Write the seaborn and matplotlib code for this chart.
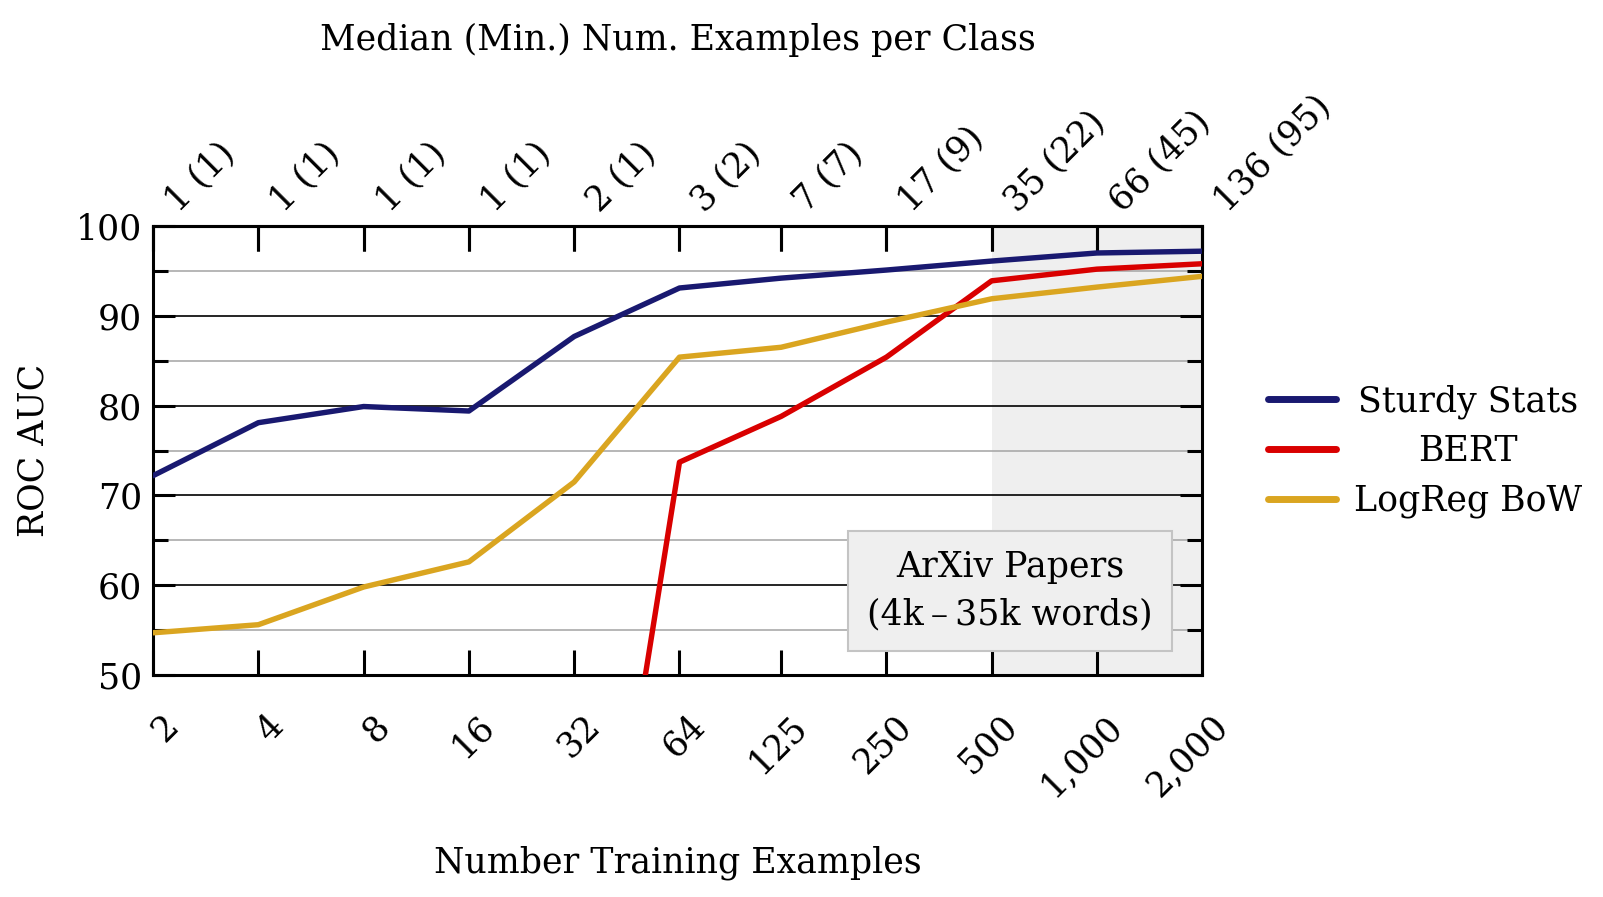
import numpy as np
import pandas as pd
import matplotlib
matplotlib.use("Agg")
import matplotlib.pyplot as plt
import matplotlib.transforms as mtransforms
from matplotlib.ticker import FixedLocator, MultipleLocator, NullFormatter
import seaborn as sns

# number of training examples (bottom axis)
n_train = [2, 4, 8, 16, 32, 64, 125, 250, 500, 1000, 2000]
bottom_labels = ["2", "4", "8", "16", "32", "64", "125", "250", "500", "1,000", "2,000"]
# median (min.) examples per class (top axis)
top_labels = ["1 (1)", "1 (1)", "1 (1)", "1 (1)", "2 (1)", "3 (2)", "7 (7)",
              "17 (9)", "35 (22)", "66 (45)", "136 (95)"]

sturdy = [72.2, 78.1, 79.9, 79.4, 87.7, 93.1, 94.2, 95.1, 96.1, 97.0, 97.2]
bert_x = [32, 64, 125, 250, 500, 1000, 2000]
bert = [0.5, 73.7, 78.8, 85.4, 93.9, 95.2, 95.8]
logreg = [54.7, 55.6, 59.8, 62.6, 71.5, 85.4, 86.5, 89.3, 91.9, 93.2, 94.4]

df = pd.concat([
    pd.DataFrame({"n": n_train, "auc": sturdy, "model": "Sturdy Stats"}),
    pd.DataFrame({"n": bert_x, "auc": bert, "model": "BERT"}),
    pd.DataFrame({"n": n_train, "auc": logreg, "model": "LogReg BoW"}),
])
palette = {"Sturdy Stats": "#191970", "BERT": "#d90000", "LogReg BoW": "#daa520"}

FS = 25
sns.set_style("white")
plt.rcParams["font.family"] = ["DejaVu Serif"]
plt.rcParams["font.size"] = FS
for k in ["text.color", "axes.labelcolor", "xtick.color", "ytick.color"]:
    plt.rcParams[k] = "black"

fig = plt.figure(figsize=(16.03, 8.97), dpi=100)
ax = fig.add_axes([0.0955, 0.2475, 0.6545, 0.5005])

# shaded long-document region
ax.axvspan(500, 2000, color="#efefef", zorder=0, lw=0)

sns.lineplot(data=df, x="n", y="auc", hue="model", palette=palette,
             linewidth=3.9, ax=ax, legend=True, zorder=3)

ax.set_xscale("log", base=2)
ax.set_xlim(2, 2000)
ax.set_ylim(50, 100)

ax.xaxis.set_major_locator(FixedLocator(n_train))
ax.xaxis.set_minor_locator(FixedLocator([]))
ax.xaxis.set_minor_formatter(NullFormatter())
ax.set_xticklabels(bottom_labels)

ax.yaxis.set_major_locator(MultipleLocator(10))
ax.yaxis.set_minor_locator(MultipleLocator(5))

ax.grid(axis="y", which="major", color="black", lw=1.2, zorder=1)
ax.grid(axis="y", which="minor", color="#aaaaaa", lw=1.2, zorder=1)
ax.set_axisbelow(True)

ax.tick_params(which="major", direction="in", length=16, width=2.2,
               left=True, right=True, bottom=True, top=True, labelsize=FS)
ax.tick_params(axis="x", which="major", length=18, pad=24)
ax.tick_params(axis="y", which="major", pad=8)
ax.tick_params(which="minor", direction="in", length=11, width=2.2,
               left=True, right=True)
for s in ax.spines.values():
    s.set_color("black")
    s.set_linewidth(2.2)

# bottom labels: rotated, anchored at their upper right corner
shift_b = mtransforms.ScaledTranslation(8 / 100, 0, fig.dpi_scale_trans)
for lab in ax.get_xticklabels():
    lab.set_rotation(45)
    lab.set_ha("right")
    lab.set_va("top")
    lab.set_rotation_mode("anchor")
    lab.set_transform(lab.get_transform() + shift_b)

sec = ax.secondary_xaxis("top")
sec.xaxis.set_major_locator(FixedLocator(n_train))
sec.xaxis.set_minor_locator(FixedLocator([]))
sec.set_xticklabels(top_labels)
sec.tick_params(direction="in", length=18, width=2.2, pad=6, labelsize=FS)
sec.spines["top"].set_linewidth(2.2)
shift_t = mtransforms.ScaledTranslation(30 / 100, 0, fig.dpi_scale_trans)
for lab in sec.get_xticklabels():
    lab.set_rotation(45)
    lab.set_ha("left")
    lab.set_va("bottom")
    lab.set_rotation_mode("anchor")
    lab.set_transform(lab.get_transform() + shift_t)
sec.set_xlabel("Median (Min.) Num. Examples per Class", fontsize=FS, labelpad=28)

ax.set_xlabel("Number Training Examples", fontsize=FS, labelpad=31)
ax.set_ylabel("ROC AUC", fontsize=FS, labelpad=18)

ax.text(0.817, 0.187, "ArXiv Papers\n(4k\u2009\u2013\u200935k words)", transform=ax.transAxes,
        ha="center", va="center", fontsize=FS, linespacing=1.5, zorder=5,
        bbox=dict(boxstyle="square,pad=0.55", fc="#efefef", ec="#c4c4c4", lw=1.5))

leg = ax.legend(loc="center", bbox_to_anchor=(0.889, 0.497), bbox_transform=fig.transFigure,
                frameon=False, fontsize=FS, handlelength=1.95, labelspacing=0.45,
                handletextpad=0.5)
for line in leg.get_lines():
    line.set_linewidth(5)

# centre the legend texts in their column
fig.canvas.draw()
r = fig.canvas.get_renderer()
widths = [t.get_window_extent(r).width for t in leg.get_texts()]
maxw = max(widths)
for t, w in zip(leg.get_texts(), widths):
    off = mtransforms.ScaledTranslation((maxw - w) / 2 / fig.dpi, 0, fig.dpi_scale_trans)
    t.set_transform(t.get_transform() + off)

fig.savefig("out.png", dpi=100)
